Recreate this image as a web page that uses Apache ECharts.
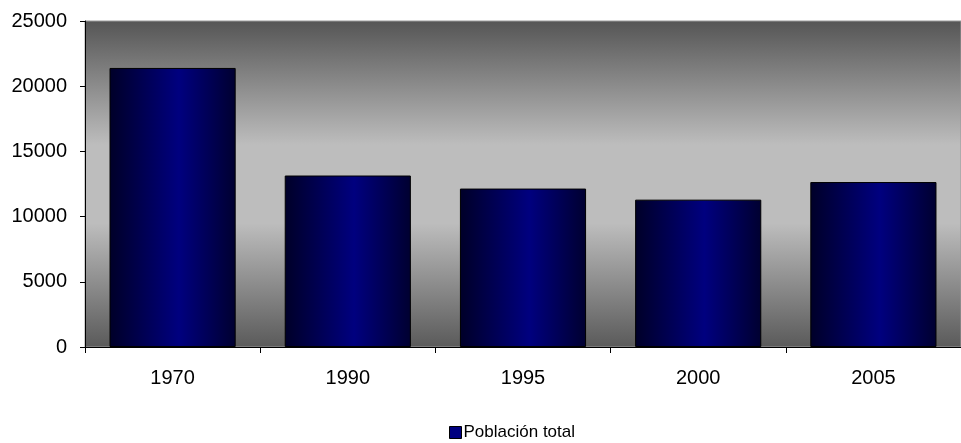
<!DOCTYPE html>
<html>
<head>
<meta charset="utf-8">
<script src="https://cdn.jsdelivr.net/npm/echarts@6/dist/echarts.min.js"></script>
<style>
  html, body { margin: 0; padding: 0; background: #fff; }
  #chart { width: 961px; height: 443px; }
</style>
</head>
<body>
<div id="chart"></div>
<script>
var years = ['1970', '1990', '1995', '2000', '2005'];
var poblacion = [21400, 13150, 12150, 11300, 12650];
var seriesName = 'Población total';

var myChart = echarts.init(document.getElementById('chart'));

var barFill = new echarts.graphic.LinearGradient(0, 0, 1, 0, [
  { offset: 0, color: '#000028' },
  { offset: 0.55, color: '#00007f' },
  { offset: 1, color: '#000030' }
]);

var option = {
  animation: false,
  textStyle: { fontFamily: 'Liberation Sans, Arial, sans-serif' },
  grid: {
    left: 85,
    top: 21,
    right: -4,
    bottom: 96,
    show: true,
    borderColor: '#9a9a9a',
    borderWidth: 1,
    backgroundColor: new echarts.graphic.LinearGradient(0, 0, 0, 1, [
      { offset: 0, color: '#555555' },
      { offset: 0.38, color: '#bdbdbd' },
      { offset: 0.62, color: '#bdbdbd' },
      { offset: 1, color: '#5a5a5a' }
    ])
  },
  legend: {
    bottom: -3,
    left: 444,
    icon: 'rect',
    itemWidth: 12,
    itemHeight: 12,
    textStyle: { fontSize: 17, color: '#000', padding: [0, 0, 0, -3] },
    data: [{ name: seriesName, itemStyle: { color: '#000080', borderColor: '#000', borderWidth: 1 } }]
  },
  xAxis: {
    type: 'category',
    data: years,
    axisLine: { show: true, lineStyle: { color: '#000', width: 1 } },
    axisTick: { show: true, length: 6, lineStyle: { color: '#000' } },
    axisLabel: { fontSize: 20, color: '#000', margin: 21 }
  },
  yAxis: {
    type: 'value',
    min: 0,
    max: 25000,
    interval: 5000,
    axisLine: { show: true, lineStyle: { color: '#000', width: 1 } },
    axisTick: { show: true, length: 5, lineStyle: { color: '#000' } },
    axisLabel: { fontSize: 20, color: '#000', margin: 18, formatter: function (v) { return String(v); } },
    splitLine: { show: false }
  },
  series: [
    {
      name: seriesName,
      type: 'bar',
      data: poblacion,
      barCategoryGap: '28%',
      itemStyle: {
        color: barFill,
        borderColor: '#000',
        borderWidth: 1
      }
    }
  ]
};

myChart.setOption(option);
</script>
</body>
</html>
